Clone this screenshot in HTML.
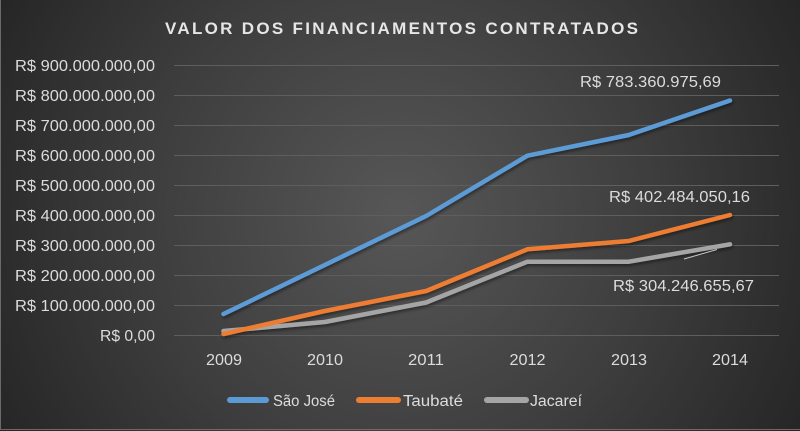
<!DOCTYPE html>
<html><head><meta charset="utf-8"><style>
html,body{margin:0;padding:0;background:#262626;}
svg{display:block;font-family:"Liberation Sans",sans-serif;}
</style></head><body>
<svg width="800" height="431" viewBox="0 0 800 431" xmlns="http://www.w3.org/2000/svg">
<defs>
<radialGradient id="bg" cx="400" cy="215" r="470" gradientUnits="userSpaceOnUse">
<stop offset="0" stop-color="#575757"/>
<stop offset="0.55" stop-color="#3d3d3d"/>
<stop offset="1" stop-color="#242424"/>
</radialGradient>
<filter id="sh" x="-10%" y="-10%" width="120%" height="130%">
<feDropShadow dx="1" dy="2" stdDeviation="1.5" flood-color="#000" flood-opacity="0.45"/>
</filter>
</defs>
<rect x="0" y="0" width="800" height="431" fill="url(#bg)"/>
<line x1="0.5" y1="0" x2="0.5" y2="430" stroke="#6a6a6a" stroke-width="1"/>
<line x1="0" y1="429.5" x2="800" y2="429.5" stroke="#6a6a6a" stroke-width="1"/>

<text x="165" y="34" font-size="17" font-weight="bold" fill="#e6e6e6" textLength="473" lengthAdjust="spacing">VALOR DOS FINANCIAMENTOS CONTRATADOS</text>

<g stroke="#5e5e5e" stroke-width="1">
<line x1="174" y1="65.5" x2="779" y2="65.5"/>
<line x1="174" y1="95.5" x2="779" y2="95.5"/>
<line x1="174" y1="125.5" x2="779" y2="125.5"/>
<line x1="174" y1="155.5" x2="779" y2="155.5"/>
<line x1="174" y1="185.5" x2="779" y2="185.5"/>
<line x1="174" y1="215.5" x2="779" y2="215.5"/>
<line x1="174" y1="245.5" x2="779" y2="245.5"/>
<line x1="174" y1="275.5" x2="779" y2="275.5"/>
<line x1="174" y1="305.5" x2="779" y2="305.5"/>
<line x1="174" y1="335.5" x2="779" y2="335.5"/>
</g>

<g font-size="15.5" fill="#dcdcdc" text-anchor="end">
<text x="155" y="71" textLength="140" lengthAdjust="spacingAndGlyphs">R$ 900.000.000,00</text>
<text x="155" y="101" textLength="140" lengthAdjust="spacingAndGlyphs">R$ 800.000.000,00</text>
<text x="155" y="131" textLength="140" lengthAdjust="spacingAndGlyphs">R$ 700.000.000,00</text>
<text x="155" y="161" textLength="140" lengthAdjust="spacingAndGlyphs">R$ 600.000.000,00</text>
<text x="155" y="191" textLength="140" lengthAdjust="spacingAndGlyphs">R$ 500.000.000,00</text>
<text x="155" y="221" textLength="140" lengthAdjust="spacingAndGlyphs">R$ 400.000.000,00</text>
<text x="155" y="251" textLength="140" lengthAdjust="spacingAndGlyphs">R$ 300.000.000,00</text>
<text x="155" y="281" textLength="140" lengthAdjust="spacingAndGlyphs">R$ 200.000.000,00</text>
<text x="155" y="311" textLength="140" lengthAdjust="spacingAndGlyphs">R$ 100.000.000,00</text>
<text x="155" y="341" textLength="55" lengthAdjust="spacingAndGlyphs">R$ 0,00</text>
</g>

<g font-size="15.5" fill="#dcdcdc" text-anchor="middle">
<text x="224" y="365" textLength="36" lengthAdjust="spacingAndGlyphs">2009</text>
<text x="325" y="365" textLength="36" lengthAdjust="spacingAndGlyphs">2010</text>
<text x="426" y="365" textLength="36" lengthAdjust="spacingAndGlyphs">2011</text>
<text x="527.5" y="365" textLength="36" lengthAdjust="spacingAndGlyphs">2012</text>
<text x="629" y="365" textLength="36" lengthAdjust="spacingAndGlyphs">2013</text>
<text x="730" y="365" textLength="36" lengthAdjust="spacingAndGlyphs">2014</text>
</g>

<g fill="none" stroke-width="4.5" stroke-linecap="round" stroke-linejoin="round" filter="url(#sh)">
<polyline stroke="#a5a5a5" points="223.5,331 324.8,322 426.1,302.5 527.4,261.7 628.7,261.7 730,244.3"/>
<polyline stroke="#ed7d31" points="223.5,334 324.8,311 426.1,291 527.4,249.3 628.7,241 730,215"/>
<polyline stroke="#5b9bd5" points="223.5,314 324.8,265 426.1,216 527.4,155.7 628.7,135 730,100.5"/>
</g>

<line x1="684" y1="259" x2="717" y2="249.5" stroke="#c8c8c8" stroke-width="1"/>

<g font-size="15.5" fill="#dcdcdc">
<text x="580" y="87" textLength="141" lengthAdjust="spacingAndGlyphs">R$ 783.360.975,69</text>
<text x="609" y="202" textLength="141" lengthAdjust="spacingAndGlyphs">R$ 402.484.050,16</text>
<text x="613" y="291" textLength="141" lengthAdjust="spacingAndGlyphs">R$ 304.246.655,67</text>
</g>

<g stroke-width="6" stroke-linecap="round">
<line x1="230" y1="400" x2="266" y2="400" stroke="#5b9bd5"/>
<line x1="359" y1="400" x2="398" y2="400" stroke="#ed7d31"/>
<line x1="487" y1="400" x2="526" y2="400" stroke="#a5a5a5"/>
</g>
<g font-size="15.5" fill="#dcdcdc">
<text x="273" y="406" textLength="62" lengthAdjust="spacingAndGlyphs">São José</text>
<text x="403" y="406" textLength="60" lengthAdjust="spacingAndGlyphs">Taubaté</text>
<text x="530" y="406" textLength="52" lengthAdjust="spacingAndGlyphs">Jacareí</text>
</g>
</svg>
</body></html>
